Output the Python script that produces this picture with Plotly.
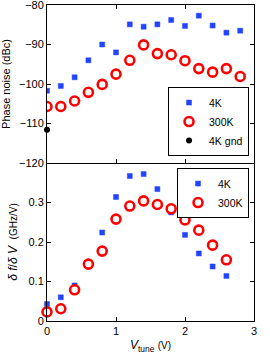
import plotly.graph_objects as go
from plotly.subplots import make_subplots

v_top = [0, 0.2, 0.4, 0.6, 0.8, 1.0, 1.2, 1.4, 1.6, 1.8, 2.0, 2.2, 2.4, 2.6, 2.8]
pn_4k = [-101.7, -100.5, -98.3, -94.0, -90.0, -92.0, -84.9, -85.5, -84.9, -83.8, -85.3, -82.7, -85.2, -87.0, -86.5]
pn_300k = [-105.7, -105.7, -104.3, -102.1, -100.1, -97.5, -94.0, -90.1, -92.3, -92.6, -94.1, -96.1, -97.0, -96.1, -98.1]
v_gnd = [0]
pn_4k_gnd = [-111.6]

v_bot = [0, 0.2, 0.4, 0.6, 0.8, 1.0, 1.2, 1.4, 1.6, 1.8, 2.0, 2.2, 2.4, 2.6]
k_4k = [0.043, 0.060, 0.090, 0.143, 0.224, 0.314, 0.367, 0.372, 0.334, 0.275, 0.218, 0.171, 0.138, 0.114]
k_300k = [0.023, 0.031, 0.079, 0.144, 0.177, 0.258, 0.291, 0.304, 0.295, 0.284, 0.256, 0.230, 0.192, 0.155]

BLUE = "#2244ff"
RED = "#ff0000"
FONT = "Liberation Sans"

fig = make_subplots(rows=2, cols=1, shared_xaxes=True, vertical_spacing=0)

blue_m = dict(symbol="square", size=5, color=BLUE, line=dict(width=0.5, color=BLUE))
red_m = dict(symbol="circle", size=9, color="white", line=dict(width=2.6, color=RED))

fig.add_trace(go.Scatter(x=v_top, y=pn_4k, mode="markers", name="4K", marker=blue_m, legend="legend"), row=1, col=1)
fig.add_trace(go.Scatter(x=v_top, y=pn_300k, mode="markers", name="300K", marker=red_m, legend="legend"), row=1, col=1)
fig.add_trace(go.Scatter(x=v_gnd, y=pn_4k_gnd, mode="markers", name="4K gnd",
                         marker=dict(symbol="circle", size=6, color="black"), legend="legend", cliponaxis=False), row=1, col=1)

fig.add_trace(go.Scatter(x=v_bot, y=k_4k, mode="markers", name="4K", marker=blue_m, legend="legend2", cliponaxis=False), row=2, col=1)
fig.add_trace(go.Scatter(x=v_bot, y=k_300k, mode="markers", name="300K", marker=red_m, legend="legend2", cliponaxis=False), row=2, col=1)

axis_common = dict(showline=True, linecolor="black", linewidth=1, mirror="ticks", ticks="inside",
                   ticklen=4, tickcolor="black", showgrid=False, zeroline=False, automargin=False,
                   ticklabeloverflow="allow",
                   tickfont=dict(family=FONT, size=11, color="black"))

fig.update_xaxes(range=[0, 3], tickvals=[0, 1, 2, 3], **axis_common)
fig.update_xaxes(showticklabels=False, row=1, col=1)
fig.update_xaxes(row=2, col=1, mirror=False,
                 title=dict(text="<i>V</i><sub>tune</sub> <span style='font-size:10px'>(V)</span>",
                            font=dict(family=FONT, size=12, color="black"), standoff=4))

fig.update_yaxes(range=[-120, -80], tickvals=[-120, -110, -100, -90, -80], row=1, col=1,
                 title=dict(text="Phase noise (dBc)", font=dict(family=FONT, size=11, color="black"), standoff=6),
                 **axis_common)
fig.update_yaxes(range=[0, 0.4], tickvals=[0, 0.1, 0.2, 0.3], row=2, col=1,
                 title=dict(text="<i>δ f</i>/<i>δ V</i>  <span style='font-size:10px'>(GHz/V)</span>",
                            font=dict(family=FONT, size=12, color="black"), standoff=8),
                 **axis_common)

leg_common = dict(bgcolor="white", bordercolor="black", borderwidth=1,
                  font=dict(family=FONT, size=10.5, color="black"),
                  xanchor="right", x=0.976, tracegroupgap=0, itemwidth=30)

fig.update_layout(
    width=270, height=363,
    margin=dict(l=47, r=16, t=5, b=42),
    plot_bgcolor="white", paper_bgcolor="white",
    showlegend=True,
    legend=dict(yanchor="bottom", y=0.522, **leg_common),
    legend2=dict(yanchor="top", y=0.484, **leg_common),
)

fig.write_html("out.html", config={"displayModeBar": False},
               post_script="document.body.style.margin='0';document.body.style.padding='0';")
